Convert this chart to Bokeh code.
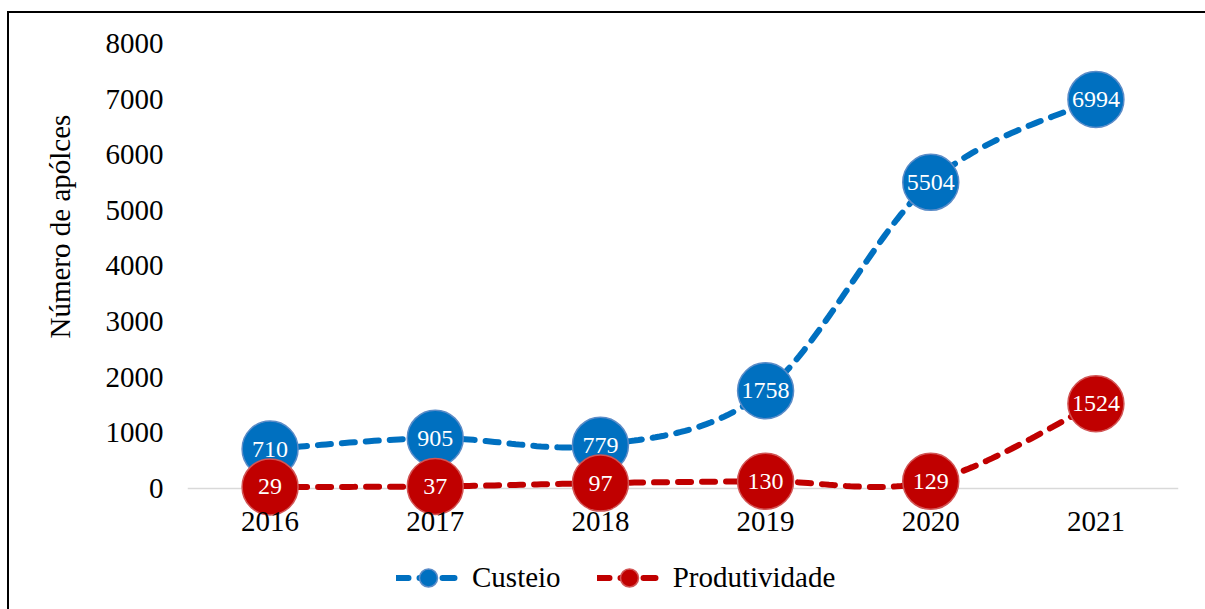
from bokeh.plotting import figure
from bokeh.layouts import column
from bokeh.models import (Range1d, FixedTicker, Legend, LegendItem, Title,
                          ColumnDataSource, LabelSet)
from bokeh.embed import file_html
from bokeh.resources import INLINE
import numpy as np

years = ["2016", "2017", "2018", "2019", "2020", "2021"]
custeio = [710, 905, 779, 1758, 5504, 6994]
produtividade = [29, 37, 97, 130, 129, 1524]
y_ticks = [0, 1000, 2000, 3000, 4000, 5000, 6000, 7000, 8000]

FONT = "Liberation Serif"
BLUE = "#0070C0"
BLUE_EDGE = "#5b8cc8"
RED = "#C00000"
RED_EDGE = "#d25555"
DASH = "13 11"
LW = 6


def smooth(values, n=40):
    """Excel-like smoothed line (Catmull-Rom Bezier, 1/6 control offsets)."""
    xs = np.arange(len(values), dtype=float)
    ys = np.asarray(values, dtype=float)
    px, py = [], []
    for i in range(len(xs) - 1):
        i0 = max(i - 1, 0)
        i3 = min(i + 2, len(xs) - 1)
        p0 = np.array([xs[i], ys[i]])
        p1 = np.array([xs[i + 1], ys[i + 1]])
        c1 = p0 + (p1 - np.array([xs[i0], ys[i0]])) / 6.0
        c2 = p1 - (np.array([xs[i3], ys[i3]]) - p0) / 6.0
        t = np.linspace(0, 1, n)[:, None]
        pts = ((1 - t) ** 3) * p0 + 3 * ((1 - t) ** 2) * t * c1 + 3 * (1 - t) * t ** 2 * c2 + t ** 3 * p1
        if i > 0:
            pts = pts[1:]
        px.extend(pts[:, 0])
        py.extend(pts[:, 1])
    return px, py


OX, OY = 9, 13  # canvas offset caused by margin + CSS border
FRAME_LEFT = 187
W = 1205 - OX
H_MAIN = 537
H_LEG = 609 - OY - H_MAIN

p = figure(width=W, height=H_MAIN, output_backend="svg", toolbar_location=None,
           x_range=Range1d(-0.5, 5.5), y_range=Range1d(-575, 8539),
           min_border_left=FRAME_LEFT - OX, min_border_right=27, min_border_top=0,
           min_border_bottom=H_MAIN - (520 - OY))
p.background_fill_color = "white"
p.border_fill_color = "white"
p.outline_line_color = None

# axes
p.xaxis.ticker = FixedTicker(ticks=list(range(len(years))))
p.xaxis.major_label_overrides = {i: y for i, y in enumerate(years)}
p.xaxis.axis_line_color = None
p.xaxis.major_tick_line_color = None
p.xaxis.minor_tick_line_color = None
p.xaxis.major_tick_in = 0
p.xaxis.major_tick_out = 0
p.xaxis.major_label_standoff = -9
p.xaxis.major_label_text_font = FONT
p.xaxis.major_label_text_font_size = "29px"
p.xaxis.major_label_text_color = "black"

p.yaxis.ticker = FixedTicker(ticks=y_ticks)
p.yaxis.axis_line_color = None
p.yaxis.major_tick_line_color = None
p.yaxis.minor_tick_line_color = None
p.yaxis.major_tick_in = 0
p.yaxis.major_tick_out = 0
p.yaxis.major_label_standoff = 24
p.yaxis.major_label_text_font = FONT
p.yaxis.major_label_text_font_size = "29px"
p.yaxis.major_label_text_color = "black"

ytitle = Title(text="Número de apólces", align="left", offset=182,
               text_font=FONT, text_font_size="29px", text_font_style="normal",
               text_color="black", standoff=53)
p.add_layout(ytitle, "left")

p.xgrid.grid_line_color = None
p.ygrid.ticker = FixedTicker(ticks=[0])
p.ygrid.grid_line_color = "#d9d9d9"
p.ygrid.grid_line_width = 1.5

xs_idx = list(range(len(years)))
src_b = ColumnDataSource(dict(x=xs_idx, y=custeio, t=[str(v) for v in custeio]))
src_r = ColumnDataSource(dict(x=xs_idx, y=produtividade, t=[str(v) for v in produtividade]))

# Custeio
bx, by = smooth(custeio)
p.line(bx, by, line_color=BLUE, line_width=LW, line_dash=DASH, line_cap="round")
p.scatter("x", "y", source=src_b, size=56, fill_color=BLUE, line_color=BLUE_EDGE, line_width=1.5)
p.add_layout(LabelSet(x="x", y="y", text="t", source=src_b, text_align="center",
                      text_baseline="middle", text_color="white", text_font=FONT,
                      text_font_size="24px"))

# Produtividade
rx, ry = smooth(produtividade)
p.line(rx, ry, line_color=RED, line_width=LW, line_dash=DASH, line_cap="round")
p.scatter("x", "y", source=src_r, size=56, fill_color=RED, line_color=RED_EDGE, line_width=1.5)
p.add_layout(LabelSet(x="x", y="y", text="t", source=src_r, text_align="center",
                      text_baseline="middle", text_color="white", text_font=FONT,
                      text_font_size="24px"))

# Legend strip (its renderers reuse the series data, kept outside the strip's view)
q = figure(width=W, height=H_LEG, output_backend="svg", toolbar_location=None,
           x_range=Range1d(-0.5, 5.5), y_range=Range1d(-3000, -2000),
           min_border=0, x_axis_type=None, y_axis_type=None)
q.background_fill_color = "white"
q.border_fill_color = "white"
q.outline_line_color = None
q.grid.visible = False
qlb = q.line(x="x", y="y", source=src_b, line_color=BLUE, line_width=LW,
             line_dash="12 11", line_cap="round")
qsb = q.scatter(x="x", y="y", source=src_b, size=18, fill_color=BLUE,
                line_color=BLUE_EDGE, line_width=1.5)
qlr = q.line(x="x", y="y", source=src_r, line_color=RED, line_width=LW,
             line_dash="12 11", line_cap="round")
qsr = q.scatter(x="x", y="y", source=src_r, size=18, fill_color=RED,
                line_color=RED_EDGE, line_width=1.5)
legend = Legend(items=[LegendItem(label="Custeio", renderers=[qlb, qsb]),
                       LegendItem(label="Produtividade", renderers=[qlr, qsr])],
                orientation="horizontal", location=(396 - FRAME_LEFT, 9),
                glyph_width=64, glyph_height=45, label_standoff=12, spacing=36,
                padding=0, margin=0, border_line_color=None, background_fill_alpha=0,
                label_text_font=FONT, label_text_font_size="29px", label_text_color="black")
q.add_layout(legend, "center")

layout = column(p, q, spacing=0)
layout.margin = (11, 0, 0, 7)
layout.styles = {"border-left": "2px solid black", "border-top": "2px solid black"}

open("out.html", "w").write(file_html(layout, INLINE))
